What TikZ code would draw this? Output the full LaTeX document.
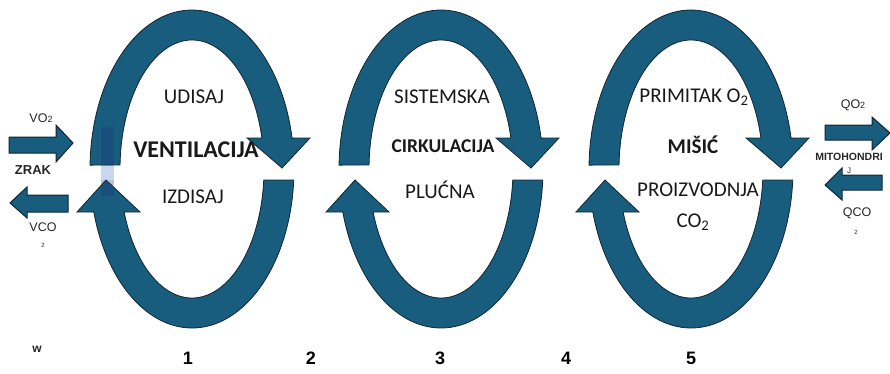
\documentclass[tikz,border=0pt]{standalone}
\usepackage{fontspec}
\setmainfont{Carlito}
\newfontfamily\sidefont{Liberation Sans}
\usetikzlibrary{positioning}
\definecolor{loopblue}{RGB}{24,92,126}
\definecolor{loopedge}{RGB}{18,38,48}
\definecolor{selblue}{RGB}{160,188,228}
\definecolor{seldark}{RGB}{30,50,120}
\tikzset{
  band/.style={fill=loopblue, draw=loopedge, line width=0.8pt, line join=miter},
  sarr/.style={band, line width=1pt},
  lbl/.style={font=\fontsize{21}{24}\selectfont, text=black!90, inner sep=0pt},
  blbl/.style={lbl, font=\bfseries\fontsize{24}{27}\selectfont},
  side/.style={font=\sidefont\fontsize{12.5}{14}\selectfont, text=black!85, inner sep=0pt},
  bside/.style={side, font=\sidefont\bfseries\fontsize{13}{15}\selectfont},
  num/.style={font=\sidefont\bfseries\fontsize{18}{21}\selectfont, inner sep=0pt},
  pics/cycle/.style={code={
    % upper half, head pointing down on the right
    \path[band] (178.6:102pt and 159pt)
      arc[start angle=178.6, end angle=11.2, x radius=102pt, y radius=159pt]
      -- (118,31) -- (90,1) -- (55,31) -- (13.9:72pt and 129pt)
      arc[start angle=13.9, end angle=178.2, x radius=72pt, y radius=129pt] -- cycle;
    % lower half, head pointing up on the left
    \path[band] (-4:102pt and 159pt)
      arc[start angle=-4, end angle=-164.3, x radius=102pt, y radius=159pt]
      -- (-115,-43) -- (-86,-11) -- (-52,-43) -- (-160.5:72pt and 129pt)
      arc[start angle=-160.5, end angle=-4.9, x radius=72pt, y radius=129pt] -- cycle;
  }}
}
\begin{document}
\begin{tikzpicture}[x=1pt, y=1pt]
  \useasboundingbox (0,0) rectangle (890,373);

  \pic (vent) at (192,204) {cycle};
  \pic (cirk) at (441,204) {cycle};
  \pic (misic) at (691,204) {cycle};
  % selection mark on the first loop
  \fill[selblue, opacity=0.6] (101,193) rectangle (114,207);
  \fill[seldark, opacity=0.3] (101,207) rectangle (114,246);
  \fill[seldark, opacity=0.3] (101,177) rectangle (114,193);

  % air side
  \path[sarr] (9,220) -- (56,220) -- (56,211) -- (73,230) -- (56,248) -- (56,236) -- (9,236) -- cycle;
  \path[sarr] (68,161) -- (27,161) -- (27,155) -- (10,170) -- (27,186) -- (27,178) -- (68,178) -- cycle;
  \node[side] (vo2)  at (41,255) {VO{\fontsize{9}{10}\selectfont 2}};
  \node[bside] (zrak) at (33,203) {ZRAK};
  \node[side] (vco)  at (43,146) {VCO};
  \node[side, font=\sidefont\fontsize{6}{7}\selectfont] (vco2) at (43,128) {2};

  % muscle side
  \node[bside, font=\sidefont\bfseries\fontsize{10.5}{12}\selectfont] (mito) at (849,216) {MITOHONDRI};
  \node[side, font=\sidefont\fontsize{8}{9}\selectfont] (mitoj) at (849,202) {J};
  \path[sarr] (825,233) -- (872,233) -- (872,223) -- (890,240) -- (872,256) -- (872,248) -- (825,248) -- cycle;
  \path[sarr] (882,183) -- (842,183) -- (842,173) -- (825,188) -- (842,205) -- (842,198) -- (882,198) -- cycle;
  \node[side] (qo2)  at (853,268) {QO{\fontsize{9}{10}\selectfont 2}};
  \node[side] (qco)  at (857,160) {QCO};
  \node[side, font=\sidefont\fontsize{6}{7}\selectfont] (qco2) at (856,141) {2};

  % loop texts
  \node[lbl]  (udisaj)  at (194,276) {UDISAJ};
  \node[blbl] (ventl)   at (196,223) {VENTILACIJA};
  \node[lbl]  (izdisaj) at (193,176) {IZDISAJ};
  \node[lbl]  (sist)    at (442,276) {SISTEMSKA};
  \node[blbl, font=\bfseries\fontsize{19.5}{22}\selectfont] (cirkl) at (443,227) {CIRKULACIJA};
  \node[lbl]  (plucna)  at (440,183) {PLUĆNA};
  \node[lbl]  (primo2)  at (694,276) {PRIMITAK O\textsubscript{2}};
  \node[blbl, font=\bfseries\fontsize{21}{24}\selectfont] (misicl) at (693,228) {MIŠIĆ};
  \node[lbl]  (proiz)   at (698,183) {PROIZVODNJA};
  \node[lbl]  (co2)     at (693,151) {CO\textsubscript{2}};

  % numbers
  \node[bside, font=\sidefont\bfseries\fontsize{12}{14}\selectfont] (w) at (37,24) {w};
  \foreach \n/\x in {1/188, 2/311, 3/440, 4/566, 5/691}
    \node[num] (n\n) at (\x,15) {\n};
\end{tikzpicture}
\end{document}
